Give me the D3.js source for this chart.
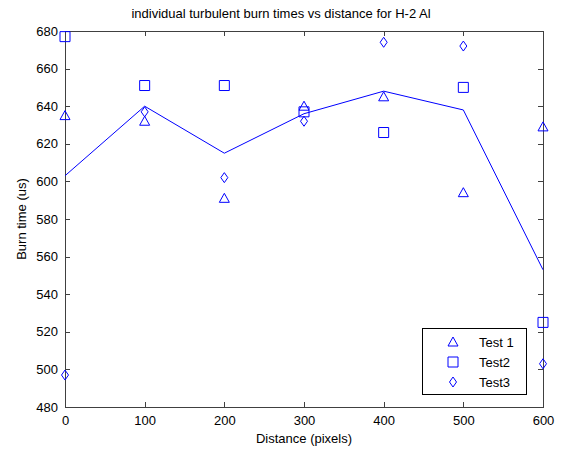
<!DOCTYPE html>
<html>
<head>
<meta charset="utf-8">
<script src="https://cdn.jsdelivr.net/npm/d3@7"></script>
<style>
  body { margin: 0; background: #fff; }
  svg text { font-family: "Liberation Sans", Arial, sans-serif; font-size: 13px; fill: #000; }
</style>
</head>
<body>
<svg id="chart" width="561" height="451"></svg>
<script>
var distance = [0, 100, 200, 300, 400, 500, 600];
var test1 = [635, 632, 591, 640, 645, 594, 629];
var test2 = [677, 651, 651, 637, 626, 650, 525];
var test3 = [497, 637, 602, 632, 674, 672, 503];
var avgTime = [603, 640, 615, 636, 648, 638, 553];
var xTicks = [0, 100, 200, 300, 400, 500, 600];
var yTicks = [480, 500, 520, 540, 560, 580, 600, 620, 640, 660, 680];

var margin = {top: 31, right: 18, bottom: 44, left: 65};
var width = 561 - margin.left - margin.right;
var height = 451 - margin.top - margin.bottom;
var blue = "#0000ff";

var svg = d3.select("#chart");
var chart = svg.append("g")
  .attr("transform", "translate(" + margin.left + "," + margin.top + ")");

var x = d3.scaleLinear().domain([0, 600]).range([0, width]);
var y = d3.scaleLinear().domain([480, 680]).range([height, 0]);

// axes with inward ticks, box on all four sides
var xAxis = d3.axisBottom(x).tickValues(xTicks).tickSizeInner(-5).tickSizeOuter(0).tickPadding(9);
var yAxis = d3.axisLeft(y).tickValues(yTicks).tickSizeInner(-5).tickSizeOuter(0).tickPadding(7);

chart.append("g").attr("class", "axis")
  .attr("transform", "translate(0," + height + ")")
  .call(xAxis);
chart.append("g").attr("class", "axis").call(yAxis);
chart.append("g").attr("class", "axis")
  .call(d3.axisTop(x).tickValues(xTicks).tickSizeInner(-5).tickSizeOuter(0).tickFormat(""));
chart.append("g").attr("class", "axis")
  .attr("transform", "translate(" + width + ",0)")
  .call(d3.axisRight(y).tickValues(yTicks).tickSizeInner(-5).tickSizeOuter(0).tickFormat(""));

chart.selectAll(".axis path, .axis line").attr("stroke", "#404040").attr("shape-rendering", "crispEdges");
chart.selectAll(".axis text").attr("font-size", 13).attr("font-family", "Liberation Sans, Arial, sans-serif").attr("fill", "#000");

// mean line
var line = d3.line()
  .x(function(d, i) { return x(distance[i]); })
  .y(function(d) { return y(d); });
chart.append("path")
  .datum(avgTime)
  .attr("fill", "none")
  .attr("stroke", blue)
  .attr("stroke-width", 1)
  .attr("d", line);

function markerPath(shape) {
  if (shape === "triangle") return "M0,-5L5,4L-5,4Z";
  if (shape === "square") return "M-5,-5H5V5H-5Z";
  return "M0,-5L3.5,0L0,5L-3.5,0Z";
}

var series = [
  {name: "Test 1", values: test1, shape: "triangle"},
  {name: "Test2", values: test2, shape: "square"},
  {name: "Test3", values: test3, shape: "diamond"}
];

series.forEach(function(s) {
  chart.selectAll(".m-" + s.shape)
    .data(s.values)
    .enter().append("path")
    .attr("class", "m-" + s.shape)
    .attr("transform", function(d, i) { return "translate(" + x(distance[i]) + "," + y(d) + ")"; })
    .attr("d", markerPath(s.shape))
    .attr("fill", "none")
    .attr("stroke", blue)
    .attr("stroke-width", 1);
});

// legend
var legend = svg.append("g").attr("transform", "translate(422,328)");
legend.append("rect")
  .attr("width", 104).attr("height", 66)
  .attr("fill", "#fff").attr("stroke", "#000").attr("shape-rendering", "crispEdges");
series.forEach(function(s, i) {
  var row = legend.append("g").attr("transform", "translate(0," + (14 + i * 20) + ")");
  row.append("path")
    .attr("transform", "translate(31,0)")
    .attr("d", markerPath(s.shape))
    .attr("fill", "none").attr("stroke", blue);
  row.append("text").attr("x", 57).attr("y", 5).text(s.name);
});

// title and axis labels
svg.append("text")
  .attr("x", 281).attr("y", 18)
  .attr("text-anchor", "middle")
  .text("individual turbulent burn times vs distance for H-2 Al");
svg.append("text")
  .attr("x", 304).attr("y", 443)
  .attr("text-anchor", "middle")
  .text("Distance (pixels)");
svg.append("text")
  .attr("transform", "translate(26,219) rotate(-90)")
  .attr("text-anchor", "middle")
  .text("Burn time (us)");
</script>
</body>
</html>
